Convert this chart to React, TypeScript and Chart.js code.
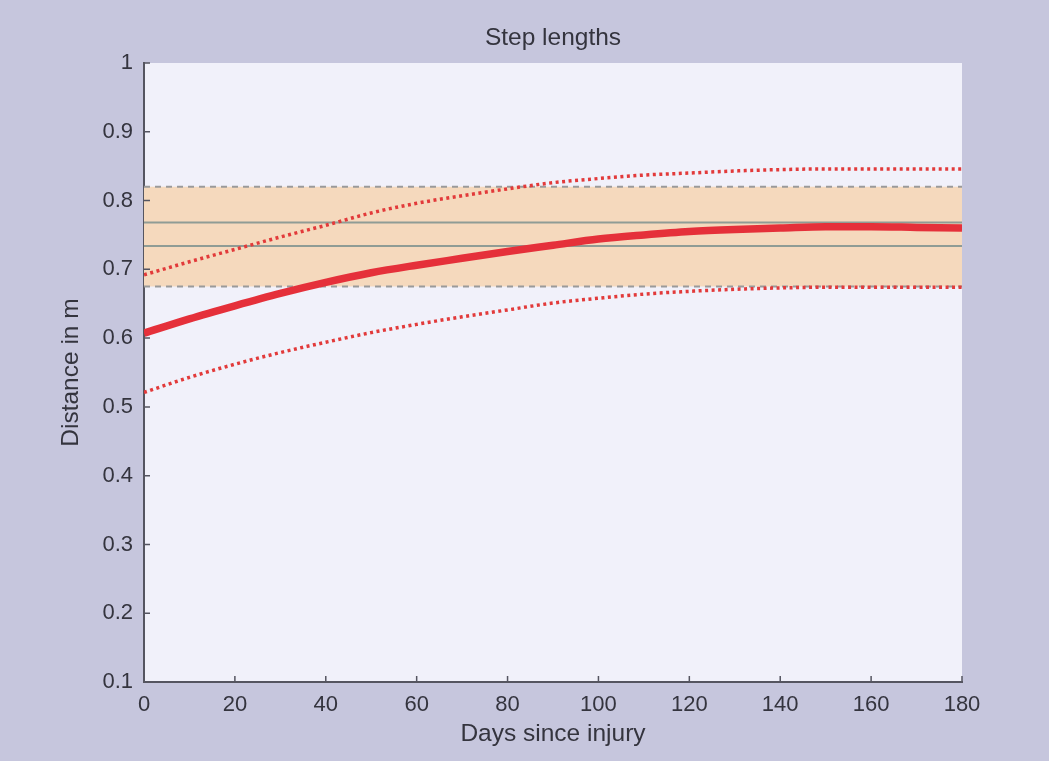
import React, { useEffect, useRef } from "react";
import { Chart, registerables } from "chart.js";

Chart.register(...registerables);

const days = [0, 10, 20, 30, 40, 50, 60, 70, 80, 90, 100, 110, 120, 130, 140, 150, 160, 170, 180];
const meanStep = [0.607, 0.628, 0.647, 0.665, 0.681, 0.695, 0.706, 0.716, 0.726, 0.735, 0.744, 0.750, 0.755, 0.758, 0.760, 0.762, 0.762, 0.761, 0.760];
const upperStep = [0.692, 0.711, 0.729, 0.747, 0.764, 0.782, 0.796, 0.807, 0.817, 0.826, 0.832, 0.837, 0.840, 0.843, 0.845, 0.846, 0.846, 0.846, 0.846];
const lowerStep = [0.521, 0.543, 0.562, 0.579, 0.594, 0.608, 0.620, 0.631, 0.641, 0.651, 0.658, 0.664, 0.668, 0.671, 0.673, 0.674, 0.674, 0.674, 0.674];

const rangeDays = [0, 180];
const normalLow = [0.675, 0.675];
const normalHigh = [0.820, 0.820];
const refLineA = [0.768, 0.768];
const refLineB = [0.734, 0.734];

const xTicks = [0, 20, 40, 60, 80, 100, 120, 140, 160, 180];
const yTicks = [0.1, 0.2, 0.3, 0.4, 0.5, 0.6, 0.7, 0.8, 0.9, 1];

const toPts = (xs: number[], ys: number[]) => xs.map((x, i) => ({ x, y: ys[i] }));

const BG = "#c6c6dd";
const PLOT_BG = "#f1f1fa";
const TEXT = "#34343e";
const FONT = "'Liberation Sans', Arial, sans-serif";

export default function App() {
  const ref = useRef<HTMLCanvasElement | null>(null);

  useEffect(() => {
    if (!ref.current) return;
    const bgPlugin = {
      id: "bgPlugin",
      beforeDraw(chart: any) {
        const { ctx, chartArea } = chart;
        ctx.save();
        ctx.fillStyle = BG;
        ctx.fillRect(0, 0, chart.width, chart.height);
        ctx.fillStyle = PLOT_BG;
        ctx.fillRect(chartArea.left, chartArea.top, chartArea.right - chartArea.left, chartArea.bottom - chartArea.top);
        ctx.restore();
      },
      afterDraw(chart: any) {
        const { ctx, chartArea, scales } = chart;
        ctx.save();
        ctx.strokeStyle = "#555560";
        ctx.lineWidth = 1.5;
        ctx.beginPath();
        xTicks.forEach((v) => {
          const px = scales.x.getPixelForValue(v);
          ctx.moveTo(px, chartArea.bottom);
          ctx.lineTo(px, chartArea.bottom - 6);
        });
        yTicks.forEach((v) => {
          const py = scales.y.getPixelForValue(v);
          ctx.moveTo(chartArea.left, py);
          ctx.lineTo(chartArea.left + 6, py);
        });
        ctx.stroke();
        ctx.restore();
      },
    };

    const chart = new Chart(ref.current, {
      type: "line",
      data: {
        datasets: [
          {
            label: "Mean",
            data: toPts(days, meanStep),
            borderColor: "#e5303a",
            borderWidth: 7.5,
            pointRadius: 0,
            cubicInterpolationMode: "monotone",
            fill: false,
          },
          {
            label: "Upper",
            data: toPts(days, upperStep),
            borderColor: "#e23a3a",
            borderWidth: 3.5,
            borderDash: [3, 3.5],
            pointRadius: 0,
            cubicInterpolationMode: "monotone",
            fill: false,
          },
          {
            label: "Lower",
            data: toPts(days, lowerStep),
            borderColor: "#e23a3a",
            borderWidth: 3.5,
            borderDash: [3, 3.5],
            pointRadius: 0,
            cubicInterpolationMode: "monotone",
            fill: false,
          },
          {
            label: "RefA",
            data: toPts(rangeDays, refLineA),
            borderColor: "#8f9c95",
            borderWidth: 2,
            pointRadius: 0,
            fill: false,
          },
          {
            label: "RefB",
            data: toPts(rangeDays, refLineB),
            borderColor: "#8f9c95",
            borderWidth: 2,
            pointRadius: 0,
            fill: false,
          },
          {
            label: "NormalLow",
            data: toPts(rangeDays, normalLow),
            borderColor: "#9a9a9a",
            borderWidth: 2,
            borderDash: [6, 5],
            pointRadius: 0,
            fill: false,
          },
          {
            label: "NormalHigh",
            data: toPts(rangeDays, normalHigh),
            borderColor: "#9a9a9a",
            borderWidth: 2,
            borderDash: [6, 5],
            pointRadius: 0,
            fill: { value: normalLow[0] },
            backgroundColor: "#f5d9bd",
          },
        ],
      },
      options: {
        responsive: false,
        animation: false,
        layout: { padding: { left: 53, right: 87, top: 8, bottom: 0 } },
        plugins: {
          legend: { display: false },
          tooltip: { enabled: false },
          title: { display: false },
        },
        scales: {
          titleAxis: {
            type: "linear",
            position: "top",
            display: true,
            min: 0,
            max: 180,
            afterFit(scale: any) {
              scale.height = 55;
            },
            grid: { display: false, drawTicks: false },
            border: { display: false },
            ticks: { display: false },
            title: {
              display: true,
              text: "Step lengths",
              color: TEXT,
              font: { family: FONT, size: 24.5 },
              padding: { top: 15.3, bottom: 10.3 },
            },
          },
          x: {
            type: "linear",
            min: 0,
            max: 180,
            afterFit(scale: any) {
              scale.height = 79;
            },
            afterBuildTicks(scale: any) {
              scale.ticks = xTicks.map((v) => ({ value: v }));
            },
            grid: { display: false, drawTicks: false },
            border: { display: true, color: "#555560", width: 2 },
            ticks: {
              color: TEXT,
              font: { family: FONT, size: 22 },
              padding: 10,
              maxRotation: 0,
              autoSkip: false,
            },
            title: {
              display: true,
              text: "Days since injury",
              color: TEXT,
              font: { family: FONT, size: 24.5 },
              padding: { top: 0, bottom: 12.3 },
            },
          },
          y: {
            type: "linear",
            min: 0.1,
            max: 1,
            afterFit(scale: any) {
              scale.width = 91;
            },
            afterBuildTicks(scale: any) {
              scale.ticks = yTicks.map((v) => ({ value: v }));
            },
            grid: { display: false, drawTicks: false },
            border: { display: true, color: "#555560", width: 2 },
            ticks: {
              color: TEXT,
              font: { family: FONT, size: 22 },
              padding: 11,
              autoSkip: false,
              callback: (v: any) => String(Math.round(Number(v) * 10) / 10),
            },
            title: {
              display: true,
              text: "Distance in m",
              color: TEXT,
              font: { family: FONT, size: 24.5 },
              padding: { top: 4, bottom: 4 },
            },
          },
        },
      },
      plugins: [bgPlugin],
    } as any);

    return () => chart.destroy();
  }, []);

  return (
    <div style={{ position: "absolute", left: 0, top: 0, width: 1049, height: 761, background: BG }}>
      <canvas ref={ref} width={1049} height={761} style={{ display: "block", width: 1049, height: 761 }} />
    </div>
  );
}
